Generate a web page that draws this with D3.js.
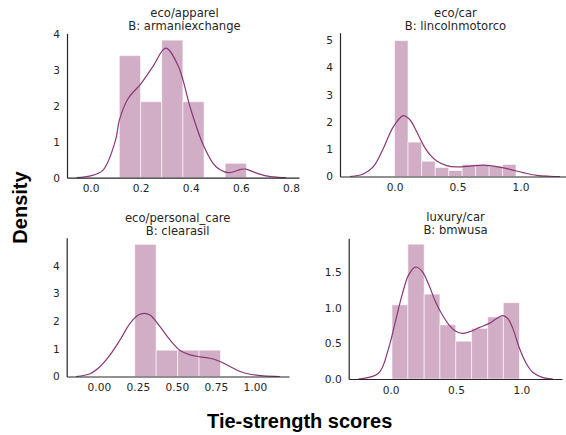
<!DOCTYPE html>
<html>
<head>
<meta charset="utf-8">
<script src="https://cdn.jsdelivr.net/npm/d3@7"></script>
<style>
  body { margin: 0; background: #fff; }
  .tick text { font-family: "DejaVu Sans", sans-serif; font-size: 10.6px; fill: #262626; }
  .title { font-family: "DejaVu Sans", sans-serif; font-size: 11.6px; fill: #262626; }
  .big { font-family: "Liberation Sans", Arial, sans-serif; font-size: 20px; font-weight: bold; fill: #000; }
</style>
</head>
<body>
<div id="chart"></div>
<script>
// panel titles
const titles1 = ['eco/apparel', 'eco/car', 'eco/personal_care', 'luxury/car']
const titles2 = ['B: armaniexchange', 'B: lincolnmotorco', 'B: clearasil', 'B: bmwusa']

// histogram bin edges and densities
const edges1 = [0.115, 0.1995, 0.284, 0.3685, 0.453, 0.5375, 0.622]
const hist1 = [3.39, 2.11, 3.82, 2.11, 0, 0.40]
const edges2 = [0.0, 0.107, 0.215, 0.323, 0.430, 0.537, 0.644, 0.751, 0.858, 0.964]
const hist2 = [4.98, 1.26, 0.56, 0.33, 0.22, 0.44, 0.44, 0.38, 0.44]
const edges3 = [0.23, 0.3675, 0.505, 0.6425, 0.78]
const hist3 = [4.77, 0.95, 0.95, 0.95]
const edges4 = [0.011, 0.132, 0.257, 0.377, 0.498, 0.619, 0.742, 0.862, 0.985]
const hist4 = [1.04, 1.89, 1.19, 0.76, 0.53, 0.71, 0.87, 1.07]

// kde curves
const kdeX1 = [-0.055, 0.0, 0.05, 0.1, 0.115, 0.15, 0.2, 0.25, 0.3, 0.35, 0.4, 0.45, 0.5, 0.55, 0.6, 0.62, 0.65, 0.7, 0.75, 0.78]
const kdeY1 = [0, 0.05, 0.21, 1.05, 1.6, 2.2, 2.6, 3.1, 3.6, 3.1, 1.9, 0.91, 0.31, 0.14, 0.23, 0.24, 0.16, 0.05, 0.01, 0]
const kdeX2 = [-0.353, -0.247, -0.168, -0.089, -0.01, 0.07, 0.123, 0.176, 0.229, 0.282, 0.335, 0.414, 0.494, 0.6, 0.705, 0.811, 0.917, 1.022, 1.129, 1.234, 1.313]
const kdeY2 = [0, 0.09, 0.36, 1.03, 1.82, 2.23, 2.07, 1.64, 1.15, 0.79, 0.57, 0.4, 0.35, 0.38, 0.42, 0.36, 0.26, 0.14, 0.04, 0.01, 0]
const kdeX3 = [-0.146, -0.056, 0.008, 0.072, 0.136, 0.2, 0.253, 0.29, 0.328, 0.392, 0.456, 0.521, 0.585, 0.649, 0.713, 0.777, 0.841, 0.905, 0.969, 1.055, 1.16]
const kdeY3 = [0, 0.1, 0.36, 0.78, 1.32, 1.92, 2.22, 2.28, 2.22, 1.8, 1.32, 0.94, 0.78, 0.71, 0.66, 0.54, 0.36, 0.18, 0.08, 0.02, 0]
const kdeX4 = [-0.246, -0.092, -0.015, 0.036, 0.088, 0.138, 0.19, 0.241, 0.292, 0.344, 0.395, 0.446, 0.498, 0.549, 0.6, 0.677, 0.754, 0.805, 0.857, 0.895, 0.934, 0.985, 1.036, 1.088, 1.165, 1.24]
const kdeY4 = [0, 0.08, 0.43, 0.8, 1.18, 1.46, 1.57, 1.51, 1.32, 1.08, 0.9, 0.76, 0.67, 0.64, 0.66, 0.72, 0.78, 0.84, 0.89, 0.85, 0.71, 0.43, 0.22, 0.09, 0.02, 0]

// axis domains and ticks
const xDomains = [[-0.094, 0.832], [-0.433, 1.361], [-0.206, 1.219], [-0.32, 1.31]]
const yDomains = [[0, 4.01], [0, 5.27], [0, 5.01], [0, 1.973]]
const xTicks = [[0, 0.2, 0.4, 0.6, 0.8], [0, 0.5, 1.0], [0, 0.25, 0.5, 0.75, 1.0], [0, 0.5, 1.0]]
const yTicks = [[0, 1, 2, 3, 4], [0, 1, 2, 3, 4, 5], [0, 1, 2, 3, 4], [0, 0.5, 1.0, 1.5]]
const xFormats = ['.1f', '.1f', '.2f', '.1f']
const yFormats = ['d', 'd', 'd', '.1f']

const BOXES = [
  { LEFT: 67, RIGHT: 299, TOP: 33.3, BOTTOM: 177.7, TX: 184.5, TY: 17.2 },
  { LEFT: 340, RIGHT: 566, TOP: 32.7, BOTTOM: 176.5, TX: 455.5, TY: 16.8 },
  { LEFT: 66.7, RIGHT: 289, TOP: 237.7, BOTTOM: 376.5, TX: 177.7, TY: 221.5 },
  { LEFT: 348.7, RIGHT: 562, TOP: 238.3, BOTTOM: 379, TX: 455.5, TY: 221.3 }
]

const BAR_FILL = 'rgb(209,174,198)'
const LINE_COLOR = '#8a3873'

const svg = d3.select('#chart')
  .append('svg')
  .attr('width', 566)
  .attr('height', 435)

const edges = [edges1, edges2, edges3, edges4]
const hists = [hist1, hist2, hist3, hist4]
const kdes = [[kdeX1, kdeY1], [kdeX2, kdeY2], [kdeX3, kdeY3], [kdeX4, kdeY4]]

function panel(i) {
  const B = BOXES[i]
  const g = svg.append('g')

  const x = d3.scaleLinear().domain(xDomains[i]).range([B.LEFT, B.RIGHT])
  const y = d3.scaleLinear().domain(yDomains[i]).range([B.BOTTOM, B.TOP])

  const bins = hists[i].map((h, j) => ({ x0: edges[i][j], x1: edges[i][j + 1], h }))

  g.selectAll('rect')
    .data(bins.filter(d => d.h > 0))
    .enter()
    .append('rect')
    .attr('x', d => x(d.x0))
    .attr('width', d => x(d.x1) - x(d.x0))
    .attr('y', d => y(d.h))
    .attr('height', d => y(0) - y(d.h))
    .attr('fill', BAR_FILL)
    .attr('stroke', 'rgba(255,255,255,0.55)')
    .attr('stroke-width', 1)

  const pts = kdes[i][0].map((v, j) => [v, kdes[i][1][j]])
  const line = d3.line()
    .x(d => x(d[0]))
    .y(d => y(d[1]))
    .curve(d3.curveCatmullRom.alpha(0.5))

  g.append('path')
    .datum(pts)
    .attr('d', line)
    .attr('fill', 'none')
    .attr('stroke', LINE_COLOR)
    .attr('stroke-width', 1.2)

  const xAxisCall = d3.axisBottom(x)
    .tickValues(xTicks[i])
    .tickFormat(d3.format(xFormats[i]))
    .tickSize(0)
    .tickPadding(7)
  const xa = g.append('g')
    .attr('transform', `translate(0, ${B.BOTTOM})`)
    .call(xAxisCall)

  const yAxisCall = d3.axisLeft(y)
    .tickValues(yTicks[i])
    .tickFormat(d3.format(yFormats[i]))
    .tickSize(0)
    .tickPadding(7)
  const ya = g.append('g')
    .attr('transform', `translate(${B.LEFT}, 0)`)
    .call(yAxisCall)

  for (const a of [xa, ya]) {
    a.select('.domain').attr('stroke', '#262626').attr('stroke-width', 1.2)
  }

  g.append('text')
    .attr('class', 'title')
    .attr('x', B.TX)
    .attr('y', B.TY)
    .attr('text-anchor', 'middle')
    .text(titles1[i])
  g.append('text')
    .attr('class', 'title')
    .attr('x', B.TX)
    .attr('y', B.TY + 13)
    .attr('text-anchor', 'middle')
    .text(titles2[i])
}

for (let i = 0; i < 4; i++) panel(i)

// shared labels
svg.append('text')
  .attr('class', 'big')
  .attr('x', -207.5)
  .attr('y', 27)
  .attr('text-anchor', 'middle')
  .attr('transform', 'rotate(-90)')
  .text('Density')

svg.append('text')
  .attr('class', 'big')
  .attr('x', 299.7)
  .attr('y', 428.3)
  .attr('text-anchor', 'middle')
  .text('Tie-strength scores')
</script>
</body>
</html>
